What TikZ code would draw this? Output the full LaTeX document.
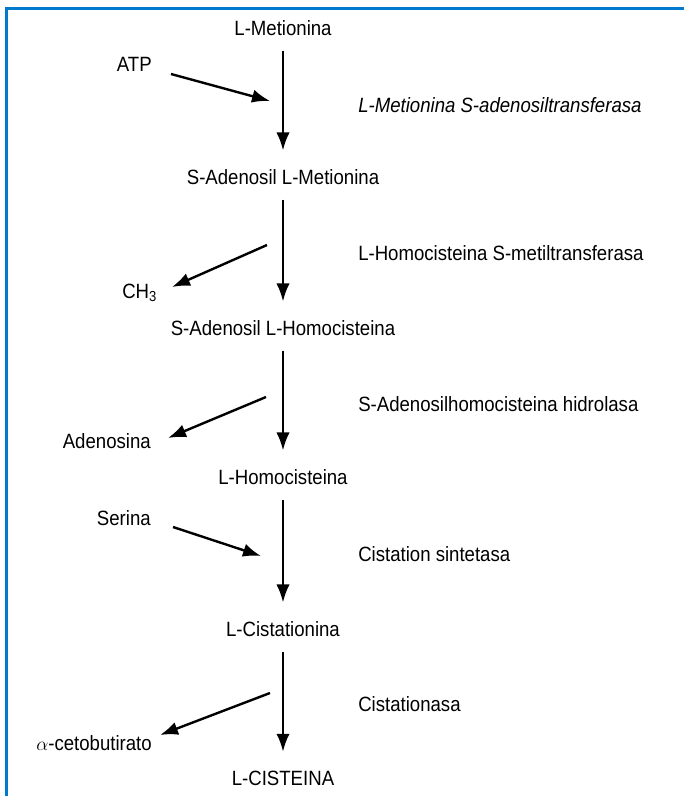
\documentclass[tikz,border=0pt]{standalone}
\usepackage{fontspec}
\setmainfont{Liberation Sans}[FakeStretch=0.9]
\usetikzlibrary{arrows.meta}
\definecolor{frameblue}{RGB}{0,122,204}

\begin{document}
\begin{tikzpicture}[x=0.75pt,y=-0.75pt,
		font=\fontsize{15.5}{18}\selectfont,
		every node/.style={inner sep=0pt},
		arr/.style={line width=1.8pt,-{Latex[length=13.5pt,width=10pt]}},
		main/.style={arr,shorten <=11pt,shorten >=14pt},
		enz/.style={anchor=west}]
		\useasboundingbox (0,0) rectangle (684,796);
		\draw[frameblue,line width=2.25pt] (6.5,796)--(6.5,8.5)--(684,8.5);
		\node at (283,28)(met){L-Metionina};
		\node at (283,177)(sam){S-Adenosil L-Metionina};
		\node at (283,328)(sah){S-Adenosil L-Homocisteina};
		\node at (283,477)(hcy){L-Homocisteina};
		\node at (283,629)(cth){L-Cistationina};
		\node at (283,778)(cys){L-CISTEINA};
		\node[anchor=east] at (152,64)(atp){ATP};
		\node[anchor=base west] at (122,298)(ch3){CH\textsubscript{3}};
		\node[anchor=east] at (151,441)(ade){Adenosina};
		\node[anchor=east] at (151,518)(ser){Serina};
		\node[anchor=east] at (152,743)(akb){$\alpha$-cetobutirato};
		\node[enz] at (358,105)(e1){\itshape L-Metionina S-adenosiltransferasa};
		\node[enz] at (358,253)(e2){L-Homocisteina S-metiltransferasa};
		\node[enz] at (358,404)(e3){S-Adenosilhomocisteina hidrolasa};
		\node[enz] at (358,554)(e4){Cistation sintetasa};
		\node[enz] at (358,704)(e5){Cistationasa};
		\path[main] (met) edge (sam)(sam) edge (sah)(sah) edge (hcy)
			(hcy) edge (cth)(cth) edge (cys);
		\coordinate (atp-a) at (171,74);
		\coordinate (atp-b) at (270,101);
		\coordinate (ch3-a) at (267,245);
		\coordinate (ch3-b) at (172,287);
		\coordinate (ade-a) at (266,397);
		\coordinate (ade-b) at (168,438);
		\coordinate (ser-a) at (173,527);
		\coordinate (ser-b) at (261,556);
		\coordinate (akb-a) at (270,693);
		\coordinate (akb-b) at (160,735);
		\path[arr] (atp-a) edge (atp-b)(ch3-a) edge (ch3-b)(ade-a) edge (ade-b)
			(ser-a) edge (ser-b)(akb-a) edge (akb-b);
	\end{tikzpicture}
\end{document}
